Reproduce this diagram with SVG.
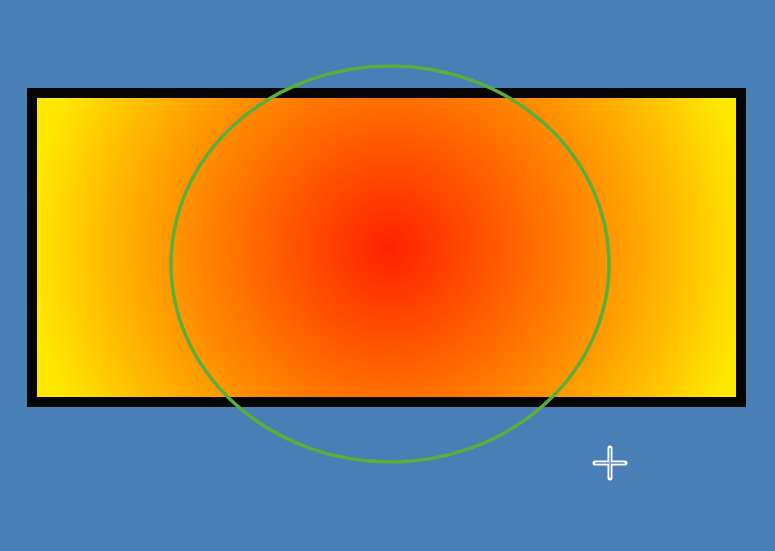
<svg xmlns="http://www.w3.org/2000/svg" width="775" height="551" viewBox="0 0 775 551">
<defs>
<radialGradient id="g" gradientUnits="userSpaceOnUse" cx="390" cy="248" r="360">
<stop offset="0" stop-color="#ff2200"/>
<stop offset="0.3" stop-color="#ff5a00"/>
<stop offset="0.55" stop-color="#ff8a00"/>
<stop offset="0.8" stop-color="#ffbd00"/>
<stop offset="1" stop-color="#ffe800"/>
</radialGradient>
</defs>
<rect width="775" height="551" fill="#477fb6"/>
<g id="rect">
<rect x="32" y="93" width="709" height="309" fill="url(#g)" stroke="#050505" stroke-width="10"/>
</g>
<g id="ellipse">
<ellipse cx="390" cy="264" rx="219" ry="198" fill="none" stroke="#5aae3c" stroke-width="3.5"/>
</g>
<g id="cursor">
<path d="M610 448 V478 M595 463 H625" stroke="#ffffff" stroke-width="5" stroke-linecap="round"/>
<path d="M610 449 V477 M596 463 H624" stroke="#7fa8d8" stroke-width="2" stroke-linecap="round"/>
</g>
</svg>
